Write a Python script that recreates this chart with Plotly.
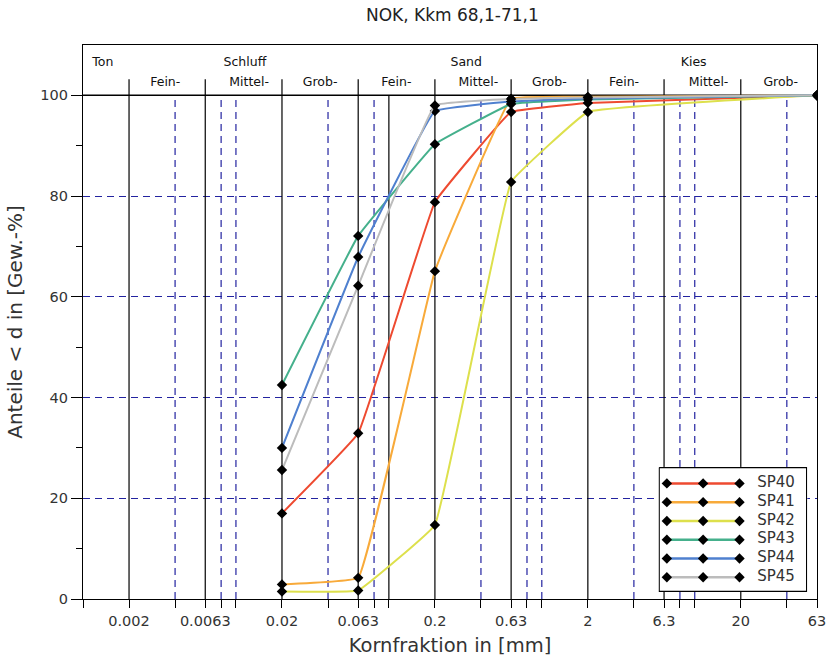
import plotly.graph_objects as go

# ---- data ----
grain_sizes = [0.02, 0.063, 0.2, 0.63, 2, 63]
series_names = ["SP40", "SP41", "SP42", "SP43", "SP44", "SP45"]
sp40 = [17.0, 32.9, 78.8, 96.7, 98.5, 100]
sp41 = [2.9, 4.2, 65.1, 99.3, 99.7, 100]
sp42 = [1.5, 1.7, 14.7, 82.8, 96.7, 100]
sp43 = [42.5, 72.1, 90.3, 98.3, 99.2, 100]
sp44 = [30.0, 67.9, 96.9, 98.8, 99.4, 100]
sp45 = [25.6, 62.2, 98.0, 99.3, 99.6, 100]
series_values = [sp40, sp41, sp42, sp43, sp44, sp45]
series_colors = ["#ee4a30", "#f8aa3a", "#dde04c", "#45b08c", "#4f80cf", "#bcbcbc"]

# grid / tick positions (mm)
solid_lines = [0.002, 0.0063, 0.02, 0.063, 0.1, 0.2, 0.63, 2, 6.3, 20]
dashed_lines = [0.004, 0.008, 0.01, 0.04, 0.08, 0.4, 0.8, 1, 4, 8, 10, 40]
boundary_lines = [0.002, 0.0063, 0.02, 0.063, 0.2, 0.63, 2, 6.3, 20]
labeled_ticks = [0.002, 0.0063, 0.02, 0.063, 0.2, 0.63, 2, 6.3, 20, 63]
tick_label_text = ["0.002", "0.0063", "0.02", "0.063", "0.2", "0.63", "2", "6.3", "20", "63"]

# header labels
sub_labels = ["Fein-", "Mittel-", "Grob-", "Fein-", "Mittel-", "Grob-", "Fein-", "Mittel-", "Grob-"]
sub_label_x = [0.00345, 0.0122, 0.0355, 0.112, 0.385, 1.12, 3.45, 12.3, 36.5]
group_labels = ["Ton", "Schluff", "Sand", "Kies"]
group_label_x = [0.00115, 0.0083, 0.253, 8.1]

x_min, x_max = 0.001, 63
y_top = 110
FONT = "DejaVu Sans, Verdana, sans-serif"

fig = go.Figure()

def vlines(xs, y0, y1):
    xx, yy = [], []
    for v in xs:
        xx += [v, v, None]
        yy += [y0, y1, None]
    return xx, yy

xx, yy = vlines(dashed_lines, 0, 100)
fig.add_trace(go.Scatter(x=xx, y=yy, mode="lines", showlegend=False, hoverinfo="skip",
                         line=dict(color="#2323a0", width=1.2, dash="7px,5px")))
xx, yy = vlines(solid_lines, 0, 100)
fig.add_trace(go.Scatter(x=xx, y=yy, mode="lines", showlegend=False, hoverinfo="skip",
                         line=dict(color="black", width=1.2)))
xx, yy = vlines(boundary_lines, 100, 103.2)
fig.add_trace(go.Scatter(x=xx, y=yy, mode="lines", showlegend=False, hoverinfo="skip",
                         line=dict(color="black", width=1.2)))
fig.add_trace(go.Scatter(x=[x_min, x_max], y=[100, 100], mode="lines", showlegend=False,
                         hoverinfo="skip", line=dict(color="black", width=1.5)))

fig.add_trace(go.Scatter(x=sub_label_x, y=[102.5] * len(sub_labels), text=sub_labels,
                         mode="text", showlegend=False, hoverinfo="skip",
                         textfont=dict(family=FONT, size=12.5, color="#111")))
fig.add_trace(go.Scatter(x=group_label_x, y=[106.4] * len(group_labels), text=group_labels,
                         mode="text", textposition="middle right", showlegend=False,
                         hoverinfo="skip",
                         textfont=dict(family=FONT, size=12.5, color="#111")))

for name, vals, col in zip(series_names, series_values, series_colors):
    fig.add_trace(go.Scatter(
        x=grain_sizes, y=vals, name=name, mode="lines+markers", showlegend=False,
        line=dict(color=col, width=2, shape="spline", smoothing=0.2),
        marker=dict(symbol="diamond", size=8, color="black"),
    ))

# ---- custom legend in an inset subplot (x2/y2) ----
fig.add_trace(go.Scatter(x=[0, 1, 1, 0, 0], y=[0, 0, 1, 1, 0], mode="lines", fill="toself",
                         fillcolor="white", line=dict(color="black", width=1.2),
                         xaxis="x2", yaxis="y2", showlegend=False, hoverinfo="skip"))
row0, row_step = 0.128, 0.1515
sym_x = [0.052, 0.298, 0.545]
for i, (name, col) in enumerate(zip(series_names, series_colors)):
    ry = row0 + i * row_step
    fig.add_trace(go.Scatter(x=sym_x, y=[ry] * 3, mode="lines+markers", xaxis="x2", yaxis="y2",
                             line=dict(color=col, width=2.5),
                             marker=dict(symbol="diamond", size=8, color="black"),
                             showlegend=False, hoverinfo="skip"))
    fig.add_trace(go.Scatter(x=[0.665], y=[ry], text=[name], mode="text",
                             textposition="middle right", xaxis="x2", yaxis="y2",
                             textfont=dict(family=FONT, size=15, color="#333"),
                             showlegend=False, hoverinfo="skip"))

all_ticks = [x_min] + sorted(solid_lines + dashed_lines + [63])
all_text = [tick_label_text[labeled_ticks.index(v)] if v in labeled_ticks else "" for v in all_ticks]

fig.update_layout(
    width=827, height=661,
    margin=dict(l=83, r=10, t=45, b=62, autoexpand=False),
    paper_bgcolor="white", plot_bgcolor="white",
    showlegend=False,
    font=dict(family=FONT, color="#222"),
    title=dict(text="NOK, Kkm 68,1-71,1", x=0.547, xanchor="center", y=0.977, yanchor="middle",
               font=dict(family=FONT, size=17, color="#222")),
    xaxis=dict(type="log", range=[-3, 1.7993405], tickvals=all_ticks, ticktext=all_text,
               automargin=False,
               showgrid=False, zeroline=False, showline=True, linecolor="black", linewidth=1.2,
               mirror=True, ticks="outside", ticklen=8, tickcolor="black",
               tickfont=dict(family=FONT, size=14.5, color="#333"),
               title=dict(text="Kornfraktion in [mm]", font=dict(family=FONT, size=19.5, color="#333"),
                          standoff=10)),
    yaxis=dict(range=[0, y_top], tickvals=[0, 20, 40, 60, 80, 100], showgrid=True,
               automargin=False,
               gridcolor="#2323a0", griddash="7px,5px", gridwidth=1.2, zeroline=False,
               showline=True, linecolor="black", linewidth=1.2, mirror=True,
               ticks="outside", ticklen=11, tickcolor="black",
               minor=dict(tickvals=[10, 30, 50, 70, 90], ticks="outside", ticklen=6,
                          tickcolor="black", showgrid=False),
               tickfont=dict(family=FONT, size=14.5, color="#333"),
               title=dict(text="Anteile < d in [Gew.-%]", font=dict(family=FONT, size=20, color="#333"),
                          standoff=12)),
    xaxis2=dict(domain=[0.784, 0.9868], range=[-0.005, 1.005], anchor="y2", visible=False,
                fixedrange=True),
    yaxis2=dict(domain=[0.0126, 0.2384], range=[1.005, -0.005], anchor="x2", visible=False,
                fixedrange=True),
)

fig.write_html("out.html", config={"displayModeBar": False},
               post_script="document.body.style.margin='0px';document.body.style.overflow='hidden';")
